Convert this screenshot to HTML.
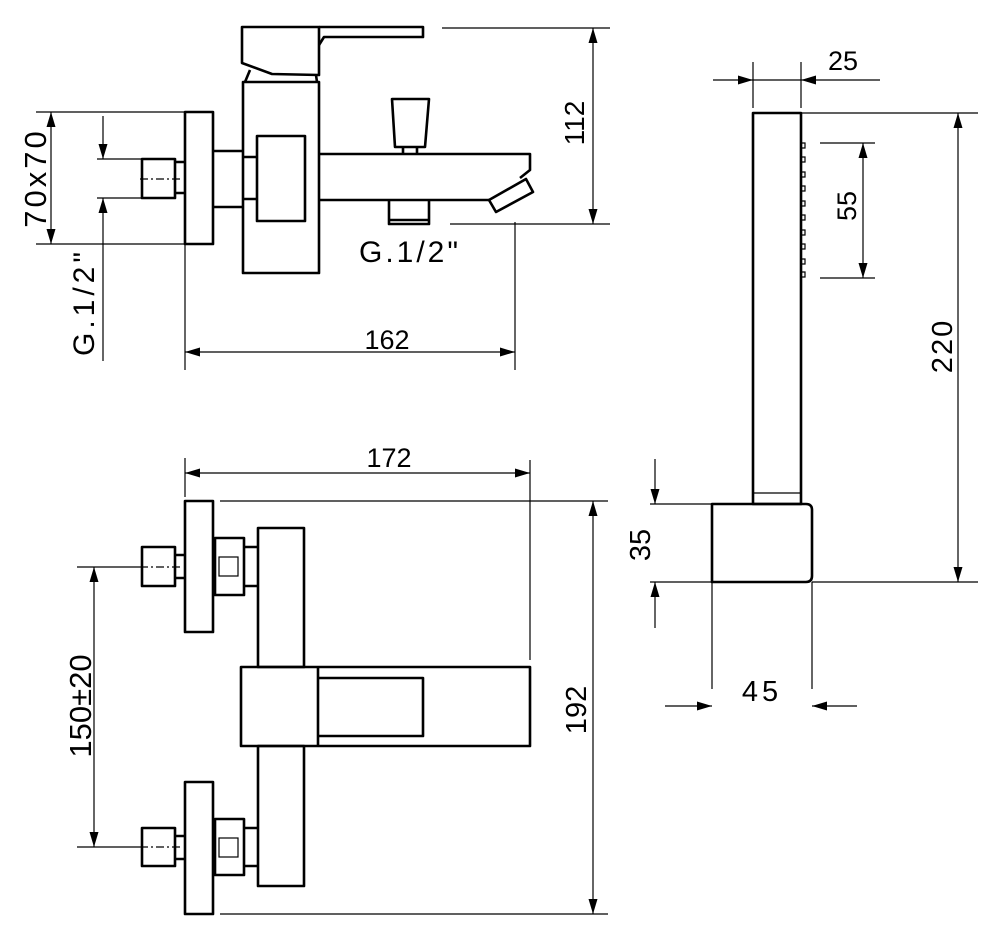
<!DOCTYPE html>
<html><head><meta charset="utf-8"><style>
html,body{margin:0;padding:0;background:#fff}
svg{display:block}
text{font-family:"Liberation Sans",sans-serif;font-size:27px;fill:#000}
</style></head><body>
<svg width="1000" height="942" viewBox="0 0 1000 942" xmlns="http://www.w3.org/2000/svg">
<defs>
<marker id="a" markerUnits="userSpaceOnUse" markerWidth="16" markerHeight="10" refX="15" refY="4.5" orient="auto-start-reverse">
<path d="M0,0 L15,4.5 L0,9 z" fill="#000"/></marker>
</defs>
<g fill="none" stroke="#000" stroke-width="2.6" stroke-linejoin="round">
<path d="M242,63 L242,27 L319,27 L319,75 L272,74 Z"/>
<path d="M319,27 L423,27 L423,37 L324,37 L319,45"/>
<path d="M245,82 L250,70 M317,82 L316,75"/>
<rect x="243" y="82" width="76" height="191"/>
<rect x="257" y="136" width="48" height="85"/>
<rect x="185" y="112" width="28" height="132"/>
<path d="M213,151 L243,151 M213,207 L243,207 M243,157 L257,157 M243,199 L257,199"/>
<rect x="142" y="159" width="33" height="39"/>
<path d="M175,162 L185,162 M175,193 L185,193"/>
<path d="M319,154 L530,154 L530,170 L520,178 M319,200 L486,200 L489,200"/>
<path d="M489,200 L526,179 L533,192 L496,212 Z"/>
<path d="M392,99 L429,99 L425,147 L395,147 Z"/>
<path d="M403,147 L403,154 M417,147 L417,154"/>
<path d="M389,200 L389,224 L429,224 L429,200 M389,220 L429,220"/>
<rect x="185" y="501" width="28" height="131"/>
<rect x="142" y="547" width="33" height="39"/>
<path d="M175,555 L185,555 M175,578 L185,578"/>
<rect x="215" y="538" width="29" height="57"/>
<path d="M244,547 L258,547 M244,586 L258,586"/>
<rect x="258" y="528" width="46" height="139"/>
<rect x="258" y="746" width="46" height="140"/>
<rect x="241" y="667" width="289" height="79"/>
<path d="M318,667 L318,746"/>
<path d="M318,678 L423,678 L423,736 L318,736"/>
<rect x="185" y="782" width="28" height="132"/>
<rect x="142" y="828" width="33" height="38"/>
<path d="M175,836 L185,836 M175,859 L185,859"/>
<rect x="215" y="819" width="29" height="56"/>
<path d="M244,828 L258,828 M244,866 L258,866"/>
<rect x="753" y="113" width="48" height="391"/>
<path d="M712,504 L806,504 Q812,504 812,510 L812,576 Q812,582 806,582 L712,582 Z"/>
</g>
<g fill="none" stroke="#000" stroke-width="1.2">
<rect x="219" y="557" width="19" height="19"/>
<rect x="219" y="838" width="19" height="19"/>
<path d="M753,493 L801,493"/>
<path d="M801,143v5h4v-5zM801,157v5h4v-5zM801,172v5h4v-5zM801,186v5h4v-5zM801,201v5h4v-5zM801,215v5h4v-5zM801,230v5h4v-5zM801,244v5h4v-5zM801,259v5h4v-5zM801,272v5h4v-5z"/>
<path d="M442,28 L610,28 M450,224 L610,224 M185,245 L185,370 M515,222 L515,370 M36,112 L185,112 M36,244 L213,244 M97,159 L142,159 M97,198 L142,198"/>
<path d="M185,458 L185,497 M530,460 L530,660 M220,501 L608,501 M220,914 L608,914 M77,567 L140,567 M77,847 L140,847"/>
<path d="M753,62 L753,108 M801,62 L801,108 M801,113 L978,113 M812,582 L978,582 M820,143 L875,143 M820,278 L875,278 M650,504 L712,504 M650,582 L712,582 M712,582 L712,689 M812,582 L812,689"/>
<path d="M140,179 L180,179 M140,567 L182,567 M140,847 L182,847" stroke-dasharray="8,3,2,3"/>
<path d="M593,28 L593,224" marker-start="url(#a)" marker-end="url(#a)"/>
<path d="M185,352 L515,352" marker-start="url(#a)" marker-end="url(#a)"/>
<path d="M51,112 L51,244" marker-start="url(#a)" marker-end="url(#a)"/>
<path d="M103,116 L103,159" marker-end="url(#a)"/>
<path d="M103,361 L103,198" marker-end="url(#a)"/>
<path d="M185,473 L530,473" marker-start="url(#a)" marker-end="url(#a)"/>
<path d="M593,501 L593,914" marker-start="url(#a)" marker-end="url(#a)"/>
<path d="M94,567 L94,847" marker-start="url(#a)" marker-end="url(#a)"/>
<path d="M958,113 L958,582" marker-start="url(#a)" marker-end="url(#a)"/>
<path d="M863,143 L863,278" marker-start="url(#a)" marker-end="url(#a)"/>
<path d="M713,80 L753,80" marker-end="url(#a)"/>
<path d="M880,80 L801,80" marker-end="url(#a)"/>
<path d="M753,80 L801,80"/>
<path d="M655,459 L655,504" marker-end="url(#a)"/>
<path d="M655,628 L655,582" marker-end="url(#a)"/>
<path d="M665,706 L712,706" marker-end="url(#a)"/>
<path d="M857,706 L812,706" marker-end="url(#a)"/>
</g>
<text x="387" y="349" text-anchor="middle">162</text>
<text x="389" y="467" text-anchor="middle">172</text>
<text x="843" y="70" text-anchor="middle">25</text>
<text x="762" y="701" text-anchor="middle" letter-spacing="4" style="font-size:29px">45</text>
<text x="410" y="262" text-anchor="middle" letter-spacing="3" style="font-size:30px">G.1/2"</text>
<text transform="translate(584,123) rotate(-90)" text-anchor="middle" style="font-size:28px">112</text>
<text transform="translate(46,178) rotate(-90)" text-anchor="middle" letter-spacing="3" style="font-size:31px">70x70</text>
<text transform="translate(94,302) rotate(-90)" text-anchor="middle" letter-spacing="4" style="font-size:30px">G.1/2"</text>
<text transform="translate(91,706) rotate(-90)" text-anchor="middle" style="font-size:31px">150±20</text>
<text transform="translate(586,710) rotate(-90)" text-anchor="middle" style="font-size:29px">192</text>
<text transform="translate(856,206) rotate(-90)" text-anchor="middle">55</text>
<text transform="translate(952,346) rotate(-90)" text-anchor="middle" letter-spacing="2" style="font-size:29px">220</text>
<text transform="translate(650,545) rotate(-90)" text-anchor="middle" style="font-size:29px">35</text>
</svg>
</body></html>
